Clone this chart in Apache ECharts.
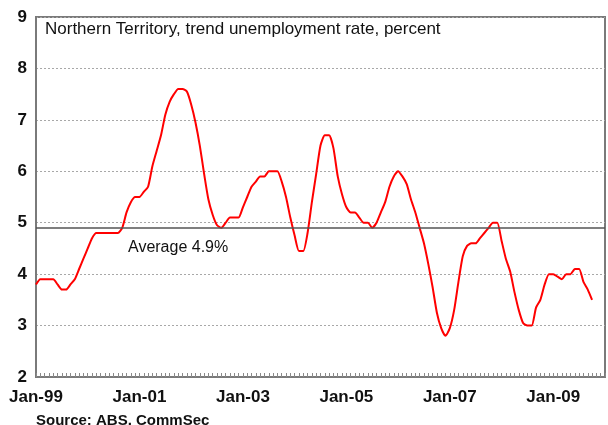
<!DOCTYPE html>
<html>
<head>
<meta charset="utf-8">
<script src="https://cdn.jsdelivr.net/npm/echarts@6/dist/echarts.min.js"></script>
<style>
  html, body { margin: 0; padding: 0; background: #fff; }
  #chart { width: 608px; height: 425px; }
</style>
</head>
<body>
<div id="chart"></div>
<script>
// Northern Territory trend unemployment rate (%), monthly from Jan-1999
var startYear = 1999;
var unemploymentRate = [
  3.8, 3.9, 3.9, 3.9, 3.9, 3.8, 3.7, 3.7, 3.8, 3.9, 4.1, 4.3,   // 1999
  4.5, 4.7, 4.8, 4.8, 4.8, 4.8, 4.8, 4.8, 4.9, 5.2, 5.4, 5.5,   // 2000
  5.5, 5.6, 5.7, 6.1, 6.4, 6.7, 7.1, 7.35, 7.5, 7.6, 7.6, 7.55, // 2001
  7.3, 6.95, 6.5, 5.95, 5.45, 5.15, 4.95, 4.9, 5.0, 5.1, 5.1, 5.1, // 2002
  5.3, 5.5, 5.7, 5.8, 5.9, 5.9, 6.0, 6.0, 6.0, 5.8, 5.5, 5.1,   // 2003
  4.75, 4.45, 4.45, 4.8, 5.4, 5.95, 6.5, 6.7, 6.7, 6.45, 5.9, 5.55, // 2004
  5.3, 5.2, 5.2, 5.1, 5.0, 5.0, 4.9, 5.0, 5.2, 5.4, 5.7, 5.9,   // 2005
  6.0, 5.9, 5.75, 5.45, 5.2, 4.9, 4.6, 4.2, 3.75, 3.25, 2.95, 2.8, // 2006
  2.95, 3.3, 3.85, 4.35, 4.55, 4.6, 4.6, 4.7, 4.8, 4.9, 5.0, 5.0, // 2007
  4.65, 4.3, 4.05, 3.65, 3.3, 3.05, 3.0, 3.0, 3.35, 3.5, 3.8, 4.0, // 2008
  4.0, 3.95, 3.9, 4.0, 4.0, 4.1, 4.1, 3.85, 3.7, 3.5            // 2009
];
var averageRate = 4.9;
var tickLabels = ['Jan-99', 'Jan-01', 'Jan-03', 'Jan-05', 'Jan-07', 'Jan-09'];
var yTicks = [2, 3, 4, 5, 6, 7, 8, 9];

var seriesData = unemploymentRate.map(function (v, i) { return [i, v]; });

var chart = echarts.init(document.getElementById('chart'), null, { renderer: 'canvas' });
var font = '"Liberation Sans", Arial, Helvetica, sans-serif';

chart.setOption({
  animation: false,
  backgroundColor: '#ffffff',
  textStyle: { fontFamily: font },
  grid: {
    left: 36, right: 3, top: 17, bottom: 48,
    show: true, borderColor: '#7a7a7a', borderWidth: 2, backgroundColor: 'transparent'
  },
  xAxis: {
    type: 'value',
    min: 0, max: 132, interval: 24,
    axisLine: { show: true, lineStyle: { color: '#7a7a7a', width: 2 } },
    axisTick: { show: true, inside: true, length: 4, lineStyle: { color: '#8a8a8a' } },
    minorTick: { show: true, splitNumber: 24, length: 4, lineStyle: { color: '#8a8a8a' } },
    splitLine: { show: false },
    axisLabel: {
      margin: 12, color: '#111', fontSize: 17, fontWeight: 'bold', fontFamily: font,
      formatter: function (v) { return tickLabels[v / 24] || ''; }
    }
  },
  yAxis: {
    type: 'value',
    min: yTicks[0], max: yTicks[yTicks.length - 1], interval: 1,
    axisLine: { show: true, lineStyle: { color: '#7a7a7a', width: 2 } },
    axisTick: { show: false },
    splitLine: { show: true, lineStyle: { color: '#a8a8a8', type: [2, 2], width: 1 } },
    axisLabel: { margin: 9, color: '#111', fontSize: 17, fontWeight: 'bold', fontFamily: font }
  },
  series: [{
    type: 'line',
    data: seriesData,
    showSymbol: false,
    symbol: 'none',
    smooth: 0.2,
    lineStyle: { color: '#ff0000', width: 2 },
    markLine: {
      silent: true,
      symbol: 'none',
      label: { show: false },
      lineStyle: { color: '#555555', type: 'solid', width: 1.5 },
      data: [{ yAxis: averageRate }]
    },
    z: 3
  }],
  graphic: [
    {
      type: 'text', left: 45, top: 21,
      style: { text: 'Northern Territory, trend unemployment rate, percent', fill: '#111', font: '17px ' + font }
    },
    {
      type: 'text', left: 128, top: 240,
      style: { text: 'Average ' + averageRate.toFixed(1) + '%', fill: '#111', font: '16px ' + font }
    },
    {
      type: 'text', left: 36, top: 413,
      style: { text: 'Source: ABS, CommSec', fill: '#111', font: 'bold 15px ' + font }
    }
  ]
});
</script>
</body>
</html>
